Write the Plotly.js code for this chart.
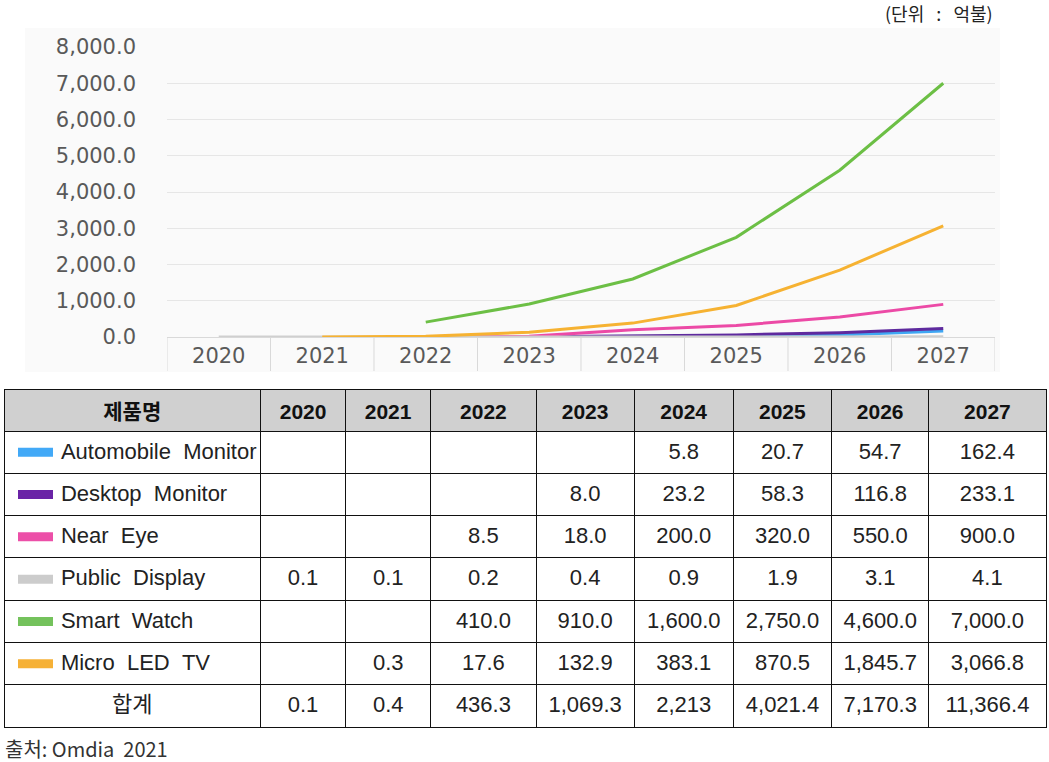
<!DOCTYPE html>
<html>
<head>
<meta charset="utf-8">
<script src="https://cdn.plot.ly/plotly-3.0.1.min.js"></script>
<style>html,body{margin:0;padding:0;background:#fff;}#chart{width:1049px;height:762px;}</style>
</head>
<body>
<div id="chart"></div>
<script>
// ---- data ----
const years = ['2020','2021','2022','2023','2024','2025','2026','2027'];
const seriesNames = ['Automobile Monitor','Desktop Monitor','Near Eye','Public Display','Smart Watch','Micro LED TV'];
const automobileMonitor = [null, null, null, null, 5.8, 20.7, 54.7, 162.4];
const desktopMonitor    = [null, null, null, 8.0, 23.2, 58.3, 116.8, 233.1];
const nearEye           = [null, null, 8.5, 18.0, 200.0, 320.0, 550.0, 900.0];
const publicDisplay     = [0.1, 0.1, 0.2, 0.4, 0.9, 1.9, 3.1, 4.1];
const smartWatch        = [null, null, 410.0, 910.0, 1600.0, 2750.0, 4600.0, 7000.0];
const microLedTV        = [null, 0.3, 17.6, 132.9, 383.1, 870.5, 1845.7, 3066.8];
const totalLabels       = ['0.1','0.4','436.3','1,069.3','2,213','4,021.4','7,170.3','11,366.4'];
const yTickValues       = [0,1000,2000,3000,4000,5000,6000,7000,8000];

// ---- styles ----
const seriesData = [automobileMonitor, desktopMonitor, nearEye, publicDisplay, smartWatch, microLedTV];
const lineColors = ['#3fa7f3','#5e2a9e','#ec4aa6','#cfcfcf','#6cbf45','#f6b232'];
const swatchColors = ['#42a9f7','#6a23a6','#ec4fa8','#cccccc','#74c25c','#f6b136'];
const W = 1049, H = 762;
const px = v => v / W;
const py = v => 1 - v / H;
const NB = '\u00a0';
const CLEAR = 'rgba(0,0,0,0)';
const colWidths = [256, 85, 85, 105, 98, 99, 98, 97, 117];
const TFONT = 'Liberation Sans, Noto Sans CJK KR';

// ---- line chart ----
const traces = seriesNames.map((n, i) => ({
  type: 'scatter', mode: 'lines', name: n, x: years, y: seriesData[i],
  line: {color: lineColors[i], width: 3}, connectgaps: false, hoverinfo: 'skip',
  xaxis: 'x', yaxis: 'y'
}));

// ---- table: grid layer (borders, header fill) ----
const nRows = seriesNames.length + 1;
const gridCols = [Array(nRows).fill('')];
years.forEach(() => gridCols.push(Array(nRows).fill('')));
const tableY = [py(729), py(389)];
traces.push({
  type: 'table',
  domain: {x: [px(4), px(1046)], y: tableY},
  columnwidth: colWidths,
  header: {
    values: [''].concat(years.map(() => '')),
    fill: {color: '#d0d0d0'},
    line: {color: '#111', width: 1},
    align: 'center', height: 42,
    font: {family: 'Liberation Sans', size: 18, color: '#111'}
  },
  cells: {
    values: gridCols,
    fill: {color: CLEAR},
    line: {color: '#111', width: 1},
    align: 'center', height: 42.3,
    font: {family: 'Liberation Sans', size: 18, color: '#222'}
  }
});

// ---- table: text layer (labels and values) ----
const fmt = v => (v === null ? '' : v.toLocaleString('en-US', {minimumFractionDigits: 1, maximumFractionDigits: 1}));
const nameCol = seriesNames.map(n => NB.repeat(8) + n.split(' ').join(NB + NB)).concat(['합계']);
const textCols = [nameCol];
years.forEach((y, j) => {
  textCols.push(seriesData.map(s => fmt(s[j])).concat([totalLabels[j]]));
});
const alignCol0 = seriesNames.map(() => 'left').concat(['center']);
const sizeCol0 = seriesNames.map(() => 22).concat([22]);
traces.push({
  type: 'table',
  domain: {x: [px(4), px(1046)], y: [py(732), py(392)]},
  columnwidth: colWidths,
  header: {
    values: ['<b>제품명</b>'].concat(years.map(y => '<b>' + y + '</b>')),
    fill: {color: CLEAR},
    line: {color: CLEAR, width: 0},
    align: 'center', height: 42,
    font: {family: TFONT, size: [21, 21], color: '#111'}
  },
  cells: {
    values: textCols,
    fill: {color: CLEAR},
    line: {color: CLEAR, width: 0},
    align: [alignCol0, 'center'],
    height: 42.3,
    font: {family: TFONT, size: [sizeCol0, 22], color: '#222'}
  }
});

// ---- legend swatches in the first column ----
seriesNames.forEach((n, i) => {
  traces.push({
    type: 'scatter', mode: 'lines', x: [0, 1], y: [n, n], xaxis: 'x2', yaxis: 'y2',
    line: {color: swatchColors[i], width: 9}, hoverinfo: 'skip', showlegend: false
  });
});

const yTop = py(47), yBot = py(337);
const shapes = [{
  type: 'rect', xref: 'paper', yref: 'paper', x0: px(25), x1: px(1000), y0: py(372), y1: py(28),
  fillcolor: '#fafafa', line: {width: 0}, layer: 'below'
}];
for (let i = 0; i <= years.length; i++) {
  shapes.push({type: 'line', xref: 'x', yref: 'paper', x0: i - 0.5, x1: i - 0.5, y0: py(337), y1: py(371),
    line: {color: '#d9d9d9', width: 1}, layer: 'below'});
}

const layout = {
  width: W, height: H,
  margin: {l: 0, r: 0, t: 0, b: 0},
  paper_bgcolor: '#ffffff', plot_bgcolor: CLEAR,
  showlegend: false,
  font: {family: 'DejaVu Sans', color: '#595959'},
  xaxis: {
    type: 'category', domain: [px(167), px(995)], range: [-0.5, 7.5],
    showgrid: false, showline: true, linecolor: '#d9d9d9', linewidth: 1,
    ticks: '', tickfont: {family: 'DejaVu Sans', size: 21, color: '#595959'},
    ticklabelstandoff: 0, fixedrange: true, anchor: 'y'
  },
  yaxis: {
    domain: [yBot, yTop], range: [0, 8000], tickvals: yTickValues, tickformat: ',.1f',
    showgrid: true, gridcolor: '#e6e6e6', gridwidth: 1, zeroline: false, showline: false,
    tickfont: {family: 'DejaVu Sans', size: 21, color: '#595959'},
    ticklabelstandoff: 30, fixedrange: true, anchor: 'x'
  },
  xaxis2: {domain: [px(18), px(53)], range: [0, 1], visible: false, fixedrange: true, anchor: 'y2'},
  yaxis2: {domain: [py(685), py(431)], type: 'category', categoryarray: seriesNames, categoryorder: 'array',
    range: [5.5, -0.5], visible: false, fixedrange: true, anchor: 'x2'},
  shapes: shapes,
  annotations: [
    {xref: 'paper', yref: 'paper', x: px(995), y: py(13), xanchor: 'right', yanchor: 'middle',
     text: '(단위' + NB.repeat(3) + ':' + NB.repeat(3) + '억불)', showarrow: false, font: {family: 'Noto Sans CJK KR', size: 18, color: '#222'}},
    {xref: 'paper', yref: 'paper', x: px(3), y: py(748), xanchor: 'left', yanchor: 'middle',
     text: '출처:' + NB + 'Omdia' + NB + NB + '2021', showarrow: false, font: {family: 'Noto Sans CJK KR', size: 20, color: '#333'}}
  ]
};

Plotly.newPlot('chart', traces, layout, {displayModeBar: false, staticPlot: true});
</script>
</body>
</html>
